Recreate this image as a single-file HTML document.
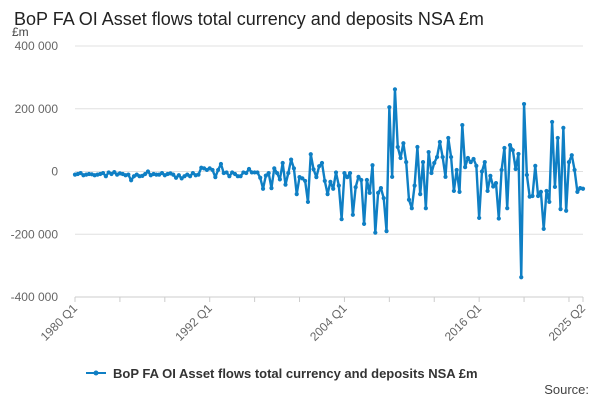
<!DOCTYPE html>
<html><head><meta charset="utf-8"><style>
body{margin:0;background:#fff;font-family:"Liberation Sans",sans-serif;}
svg text{font-family:"Liberation Sans",sans-serif;}
</style></head><body>
<svg id="c" width="600" height="400">
<text x="14" y="25" font-size="18" fill="#222">BoP FA OI Asset flows total currency and deposits NSA £m</text>
<text x="12" y="36" font-size="12" fill="#444">£m</text>
<g id="grid"></g><g id="xt"></g><g id="series"></g>
<g>
<line x1="86" y1="373" x2="106" y2="373" stroke="#0f7fc4" stroke-width="2"/>
<circle cx="96" cy="373" r="2.5" fill="#0f7fc4"/>
<text x="113" y="378" font-size="13" font-weight="bold" fill="#333">BoP FA OI Asset flows total currency and deposits NSA £m</text>
</g>
<text x="589" y="394" font-size="13" fill="#444" text-anchor="end">Source:</text>
</svg>
<script>
const yTicks=[400000,200000,0,-200000,-400000];
const yTickLabels=["400 000","200 000","0","-200 000","-400 000"];
const xTickLabels=["1980 Q1","1992 Q1","2004 Q1","2016 Q1","2025 Q2"];
const xTickIdx=[0,48,96,144,181];
const values=[-10,-8,-5,-12,-10,-8,-9,-12,-10,-8,-5,-15,-3,-8,-2,-10,-6,-8,-12,-10,-28,-15,-10,-15,-14,-8,0,-12,-8,-10,-10,-5,-12,-8,-6,-10,-20,-12,-22,-15,-10,-15,-5,-12,-10,12,10,5,
10,5,-18,5,24,-5,-3,-15,-3,-8,-15,-15,-3,-5,8,-3,-3,-3,-20,-55,-13,-5,-53,10,-5,-25,27,-42,-5,38,10,-72,-18,-22,-30,-97,55,7,-18,17,27,-30,-72,-33,-55,-3,-45,-152,-5,-18,-5,
-138,-50,-17,-27,-167,-27,-68,20,-195,-68,-53,-85,-190,205,-17,262,78,43,90,30,-90,-117,-45,78,-72,30,-117,62,-5,27,46,94,46,-17,107,46,-62,5,-65,148,14,
43,30,40,18,-148,0,30,-62,-14,-48,-37,-150,5,75,-117,84,68,8,56,-337,215,-11,-80,-78,18,-78,-65,-183,-62,-97,158,-49,107,-120,139,-125,30,52,5,-65,-53,-55].map(v=>v*1000);
const NS="http://www.w3.org/2000/svg";
const x0=75,x1=583,yTop=46,yBot=297;
const X=i=>x0+(x1-x0)*i/(values.length-1);
const Y=v=>yTop+(400000-v)/800000*(yBot-yTop);
function mk(t,a,p){const e=document.createElementNS(NS,t);for(const k in a)e.setAttribute(k,a[k]);p.appendChild(e);return e;}
const grid=document.getElementById('grid');
yTicks.forEach((t,k)=>{
 const l=mk('line',{x1:x0,x2:x1,y1:Y(t),y2:Y(t),stroke:k==4?'#ccc':'#e0e0e0','stroke-width':1},grid);
 
 
 const tx=mk('text',{x:58,y:Y(t)+4,'font-size':12,fill:'#666','text-anchor':'end'},grid);
 tx.textContent=yTickLabels[k];
 
 
});
const xt=document.getElementById('xt');
for(let i=0;i<values.length;i+=16){mk('line',{x1:X(i),x2:X(i),y1:yBot,y2:yBot+5,stroke:'#ccc'},xt);}
mk('line',{x1:X(181),x2:X(181),y1:yBot,y2:yBot+5,stroke:'#ccc'},xt);
xTickIdx.forEach((i,k)=>{
 const tx=mk('text',{x:X(i)+3,y:yBot+12,'font-size':12,fill:'#666','text-anchor':'end',transform:`rotate(-45 ${X(i)+3} ${yBot+12})`},xt);
 tx.textContent=xTickLabels[k];
 
 
});
const s=document.getElementById('series');
const path=mk('polyline',{points:values.map((v,i)=>X(i)+','+Y(v)).join(' '),fill:'none',stroke:'#0f7fc4','stroke-width':2.4,'stroke-linejoin':'round'},s);


values.forEach((v,i)=>{const c=mk('circle',{cx:X(i),cy:Y(v),r:2.1,fill:'#0f7fc4'},s);
 
 });
</script>
</body></html>
